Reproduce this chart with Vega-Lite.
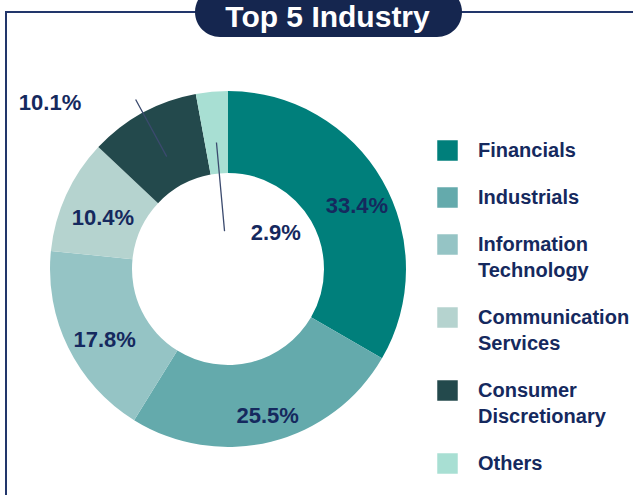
{
  "$schema": "https://vega.github.io/schema/vega-lite/v6.json",
  "width": 627,
  "height": 483,
  "autosize": "none",
  "padding": {"left": 6, "top": 12, "right": 0, "bottom": 0},
  "background": "#ffffff",
  "view": {"stroke": "#22366B", "strokeWidth": 2, "strokeDash": [627, 1110, 483, 2]},
  "config": {
    "style": {"guide-label": {"lineHeight": 26}}
  },
  "title": {"text": "Top 5 Industry", "font": "Liberation Sans", "fontSize": 30, "fontWeight": "bold", "color": "#ffffff", "anchor": "middle", "offset": -28, "dx": 8, "dy": 18},
  "data": {"values": [
    {"Industry": "Financials", "share": 0.334, "rank": 1},
    {"Industry": "Industrials", "share": 0.255, "rank": 2},
    {"Industry": "Information Technology", "share": 0.178, "rank": 3},
    {"Industry": "Communication Services", "share": 0.104, "rank": 4},
    {"Industry": "Consumer Discretionary", "share": 0.101, "rank": 5},
    {"Industry": "Others", "share": 0.029, "rank": 6}
  ]},
  "layer": [
    {
      "data": {"values": [{"banner": "Top 5 Industry"}]},
      "mark": {"type": "rect", "x": 189, "x2": 456, "y": -25, "y2": 25, "cornerRadius": 25, "color": "#15264F"}
    },
    {
      "mark": {"type": "arc", "innerRadius": 96, "outerRadius": 178, "xOffset": -91.5, "yOffset": 15.5},
      "encoding": {
        "theta": {"field": "share", "type": "quantitative", "stack": true},
        "order": {"field": "rank", "type": "quantitative"},
        "color": {
          "field": "Industry", "type": "nominal", "sort": null,
          "scale": {
            "domain": ["Financials", "Industrials", "Information Technology", "Communication Services", "Consumer Discretionary", "Others"],
            "range": ["#007F7B", "#64AAAC", "#95C4C5", "#B5D3CF", "#23494C", "#A8DFD3"]
          },
          "legend": {
            "orient": "none", "legendX": 431, "legendY": 128, "title": null,
            "symbolType": "square", "symbolSize": 420, "symbolStrokeWidth": 0, "symbolOpacity": 1,
            "labelFont": "Liberation Sans", "labelFontWeight": "bold", "labelFontSize": 20,
            "labelColor": "#15295E", "labelOffset": 20, "rowPadding": 26,
            "labelExpr": "split(datum.label, ' ')", "labelLimit": 250, "padding": 0
          }
        }
      }
    },
    {
      "mark": {"type": "text", "radius": 143, "xOffset": -91.5, "yOffset": 15.5, "dx": 5, "dy": 8, "font": "Liberation Sans", "fontSize": 22, "fontWeight": "bold", "color": "#15295E"},
      "encoding": {
        "theta": {"field": "share", "type": "quantitative", "stack": true},
        "order": {"field": "rank", "type": "quantitative"},
        "detail": {"field": "Industry"},
        "text": {"field": "share", "type": "quantitative", "format": ".1%", "condition": {"test": "datum.rank >= 5", "value": ""}}
      }
    },
    {
      "mark": {"type": "text", "radius": 189, "xOffset": -91.5, "yOffset": 15.5, "dx": -87.5, "font": "Liberation Sans", "fontSize": 22, "fontWeight": "bold", "color": "#15295E"},
      "encoding": {
        "theta": {"field": "share", "type": "quantitative", "stack": true},
        "order": {"field": "rank", "type": "quantitative"},
        "detail": {"field": "Industry"},
        "text": {"field": "share", "type": "quantitative", "format": ".1%", "condition": {"test": "datum.rank != 5", "value": ""}}
      }
    },
    {
      "mark": {"type": "text", "radius": 36, "xOffset": -91.5, "yOffset": 15.5, "dx": 51, "font": "Liberation Sans", "fontSize": 22, "fontWeight": "bold", "color": "#15295E"},
      "encoding": {
        "theta": {"field": "share", "type": "quantitative", "stack": true},
        "order": {"field": "rank", "type": "quantitative"},
        "detail": {"field": "Industry"},
        "text": {"field": "share", "type": "quantitative", "format": ".1%", "condition": {"test": "datum.rank != 6", "value": ""}}
      }
    },
    {
      "mark": {"type": "arc", "innerRadius": 38, "outerRadius": 127, "padAngle": 3.14, "xOffset": -91.5, "yOffset": 15.5, "fillOpacity": 0, "stroke": "#3B4A6E", "strokeWidth": 1.3},
      "encoding": {
        "theta": {"field": "share", "type": "quantitative", "stack": true},
        "order": {"field": "rank", "type": "quantitative"},
        "detail": {"field": "Industry"},
        "strokeOpacity": {"condition": {"test": "datum.rank == 6", "value": 1}, "value": 0}
      }
    },
    {
      "mark": {"type": "arc", "innerRadius": 128, "outerRadius": 193, "padAngle": 3.14, "xOffset": -91.5, "yOffset": 15.5, "fillOpacity": 0, "stroke": "#3B4A6E", "strokeWidth": 1.3},
      "encoding": {
        "theta": {"field": "share", "type": "quantitative", "stack": true},
        "order": {"field": "rank", "type": "quantitative"},
        "detail": {"field": "Industry"},
        "strokeOpacity": {"condition": {"test": "datum.rank == 5", "value": 1}, "value": 0}
      }
    }
  ]
}
